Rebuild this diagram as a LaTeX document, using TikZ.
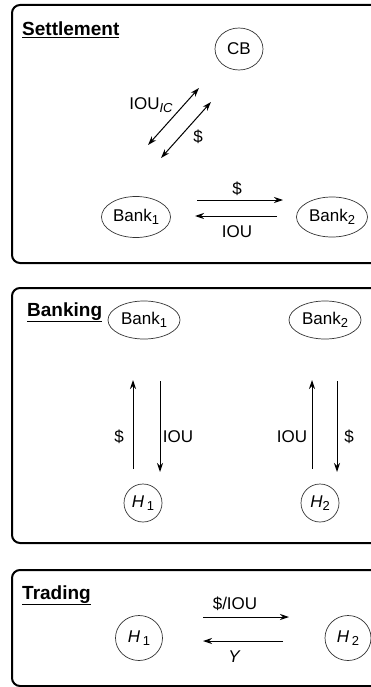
\documentclass[tikz,border=0pt]{standalone}
\usepackage{fontspec}
\setmainfont{Liberation Sans}
\usetikzlibrary{shapes.geometric,arrows.meta}
\newcommand{\sbs}[1]{\raisebox{-0.3ex}{\fontsize{13}{14}\selectfont #1}}
\begin{document}
\begin{tikzpicture}[x=1pt,y=-1pt,
 panel/.style={draw=black,line width=2pt,rounded corners=8pt},
 ent/.style={draw=black!80,line width=0.7pt,ellipse,inner sep=0pt,font=\fontsize{17}{19}\selectfont},
 flow/.style={line width=1pt,-{Stealth[length=9pt,width=6pt]}},
 dflow/.style={line width=1pt,{Stealth[length=9pt,width=6pt]}-{Stealth[length=9pt,width=6pt]}},
 lab/.style={font=\fontsize{17}{19}\selectfont,inner sep=0pt},
 ttl/.style={font=\fontsize{19}{21}\selectfont\bfseries,anchor=base west,inner sep=0pt}]
\useasboundingbox (0,0) rectangle (371,687);
\clip (0,0) rectangle (371,687);
% panels
\draw[panel] (12,5) rectangle (390,263);
\draw[panel] (12,288) rectangle (390,543);
\draw[panel] (12,570) rectangle (390,686);
% titles
\node[ttl] (tS) at (22,36) {\underline{Settlement}};
\node[ttl] (tB) at (27,316) {\underline{Banking}};
\node[ttl] (tT) at (22,599) {\underline{Trading}};
% Settlement
\node[ent,minimum width=48pt,minimum height=42pt] (CB) at (239,49) {CB};
\node[ent,minimum width=69pt,minimum height=41pt] (sB1) at (136,217) {Bank\sbs{1}};
\node[ent,minimum width=71pt,minimum height=40pt] (sB2) at (332,217) {Bank\sbs{2}};
\coordinate (d1a) at (148,145); \coordinate (d1b) at (199,88);
\coordinate (d2a) at (161,158); \coordinate (d2b) at (211,102);
\draw[dflow] (d1a) -- (d1b);
\draw[dflow] (d2a) -- (d2b);
\node[lab] (lIOUic) at (151,105) {IOU\sbs{\itshape IC}};
\node[lab] (lD1) at (198,137) {\$};
\coordinate (h1a) at (197,200); \coordinate (h1b) at (283,200);
\coordinate (h2a) at (277,216); \coordinate (h2b) at (195,216);
\draw[flow] (h1a) -- (h1b);
\draw[flow] (h2a) -- (h2b);
\node[lab] (lD2) at (237,189) {\$};
\node[lab] (lIOU1) at (237,232) {IOU};
% Banking
\node[ent,minimum width=72pt,minimum height=38pt] (bB1) at (144,320) {Bank\sbs{1}};
\node[ent,minimum width=72pt,minimum height=38pt] (bB2) at (325,320) {Bank\sbs{2}};
\node[ent,minimum width=38pt,minimum height=38pt] (bH1) at (143,503) {\itshape H\,\sbs{\upshape 1}};
\node[ent,minimum width=38pt,minimum height=38pt] (bH2) at (320,503) {\itshape H\sbs{\upshape 2}};
\coordinate (v1a) at (133,469); \coordinate (v1b) at (133,380);
\coordinate (v2a) at (160,381); \coordinate (v2b) at (160,472);
\coordinate (v3a) at (312,469); \coordinate (v3b) at (312,380);
\coordinate (v4a) at (337,381); \coordinate (v4b) at (337,472);
\draw[flow] (v1a) -- (v1b);
\draw[flow] (v2a) -- (v2b);
\draw[flow] (v3a) -- (v3b);
\draw[flow] (v4a) -- (v4b);
\node[lab] (lD3) at (119,437) {\$};
\node[lab] (lIOU2) at (178,437) {IOU};
\node[lab] (lIOU3) at (292,437) {IOU};
\node[lab] (lD4) at (349,437) {\$};
% Trading
\node[ent,minimum width=47pt,minimum height=45pt] (tH1) at (139,638) {\itshape H\,\sbs{\upshape 1}};
\node[ent,minimum width=46pt,minimum height=45pt] (tH2) at (348,638) {\itshape H\,\sbs{\upshape 2}};
\coordinate (t1a) at (203,617); \coordinate (t1b) at (289,617);
\coordinate (t2a) at (283,641); \coordinate (t2b) at (203,641);
\draw[flow] (t1a) -- (t1b);
\draw[flow] (t2a) -- (t2b);
\node[lab] (lDIOU) at (235,604) {\$/IOU};
\node[lab] (lY) at (234,657) {\itshape Y};
\end{tikzpicture}
\end{document}
